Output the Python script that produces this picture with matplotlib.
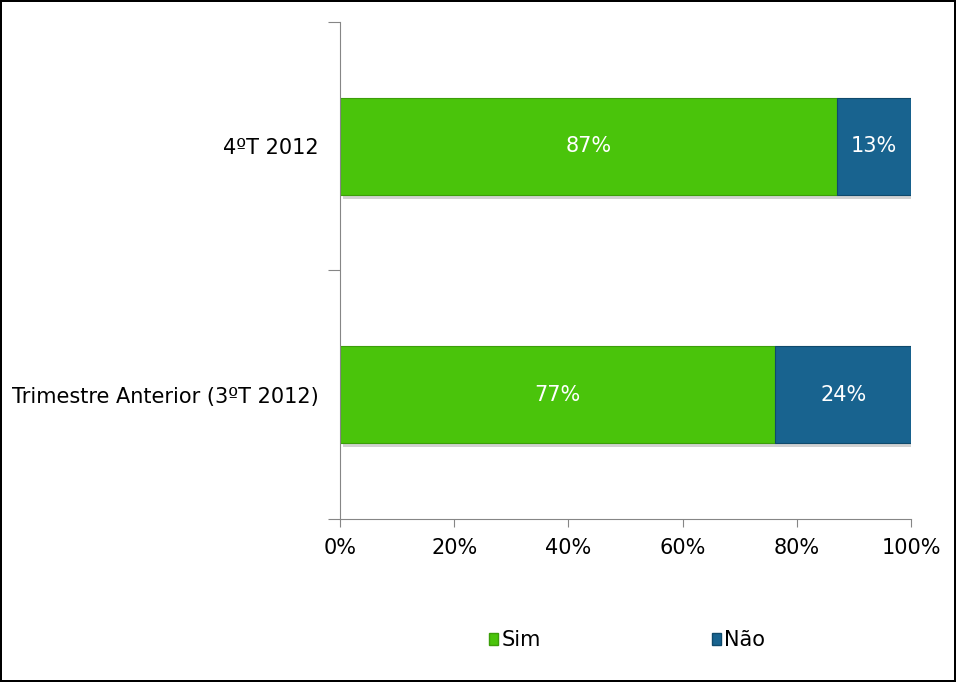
import matplotlib.pyplot as plt
import matplotlib.patheffects as pe
from matplotlib.patches import Patch
import numpy as np

## data
categories = ["Trimestre Anterior (3ºT 2012)", "4ºT 2012"]
sim = [77, 87]
nao = [24, 13]
series_names = ["Sim", "Não"]

green = "#4AC40B"
blue = "#18638F"

## normalise to 100% (stacked 100% chart)
sim_a = np.array(sim, dtype=float)
nao_a = np.array(nao, dtype=float)
total = sim_a + nao_a
sim_frac = sim_a / total
nao_frac = nao_a / total

fig = plt.figure(figsize=(9.56, 6.82), dpi=100)
fig.patch.set_edgecolor("black")
fig.patch.set_linewidth(1.5)
ax = fig.add_axes([0.3556, 0.239, 0.5974, 0.729])

y = np.arange(len(categories))
h = 0.39
shadow = [pe.SimplePatchShadow(offset=(2, -3), shadow_rgbFace="#808080", alpha=0.35), pe.Normal()]
b1 = ax.barh(y, sim_frac, height=h, color=green, edgecolor="#3C9E0A", linewidth=0.8)
b2 = ax.barh(y, nao_frac, left=sim_frac, height=h, color=blue, edgecolor="#0F4A6C", linewidth=0.8)
for p in list(b1) + list(b2):
    p.set_path_effects(shadow)

for i in range(len(categories)):
    ax.text(sim_frac[i] / 2, y[i], "{}%".format(sim[i]), ha="center", va="center", color="white", fontsize=15)
    ax.text(sim_frac[i] + nao_frac[i] / 2, y[i], "{}%".format(nao[i]), ha="center", va="center", color="white", fontsize=15)

ax.set_xlim(0, 1)
ax.set_ylim(-0.5, len(categories) - 0.5)
ax.set_xticks(np.linspace(0, 1, 6))
ax.set_xticklabels(["{}%".format(v) for v in range(0, 101, 20)], fontsize=15)
ax.tick_params(axis="x", length=6, color="#868686", pad=8)

## y ticks sit at the category boundaries, labels in the middle
ax.set_yticks([-0.5, 0.5, 1.5])
ax.set_yticklabels([])
ax.set_yticks(y, minor=True)
ax.set_yticklabels(categories, minor=True, fontsize=15)
ax.tick_params(axis="y", which="major", length=9, color="#868686")
ax.tick_params(axis="y", which="minor", length=0, pad=15)

for s in ["top", "right"]:
    ax.spines[s].set_visible(False)
for s in ["left", "bottom"]:
    ax.spines[s].set_color("#868686")

## proxy handles so the legend boxes don't get the shadow
handles = [Patch(facecolor=green, edgecolor="#3C9E0A", label=series_names[0]),
           Patch(facecolor=blue, edgecolor="#0F4A6C", label=series_names[1])]
fig.legend(handles=handles, loc="center", bbox_to_anchor=(0.656, 0.061), ncol=2, frameon=False,
           fontsize=15, handlelength=0.45, handleheight=0.45, handletextpad=0.15, columnspacing=8.2)

plt.savefig("out.png", dpi=100, edgecolor=fig.get_edgecolor())
